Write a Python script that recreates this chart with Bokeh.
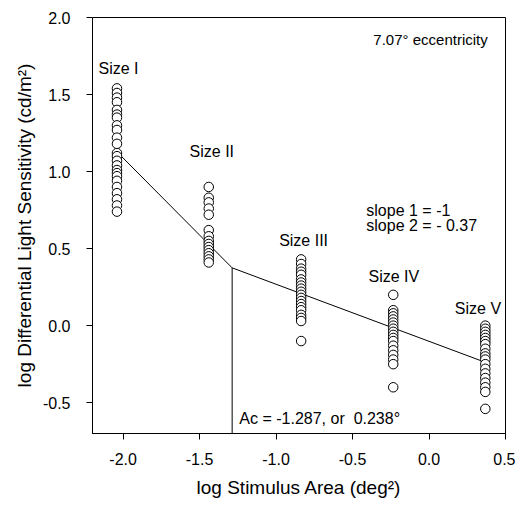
from bokeh.plotting import figure
from bokeh.models import FixedTicker, NumeralTickFormatter, Range1d, Label
from bokeh.embed import file_html
from bokeh.resources import INLINE

# ---- data ----
size_names = ["Size I", "Size II", "Size III", "Size IV", "Size V"]
size_log_area = [-2.04, -1.44, -0.836, -0.234, 0.368]

size_I = [1.54, 1.51, 1.48, 1.45, 1.40, 1.37, 1.35, 1.30, 1.27, 1.22, 1.18,
          1.12, 1.10, 1.07, 1.04, 1.01, 0.99, 0.97, 0.94, 0.90, 0.86, 0.82,
          0.78, 0.74]
size_II = [0.90, 0.83, 0.80, 0.76, 0.72, 0.62, 0.58, 0.55, 0.53, 0.51, 0.49,
           0.47, 0.45, 0.43, 0.41]
size_III = [0.43, 0.40, 0.37, 0.35, 0.33, 0.30, 0.28, 0.26, 0.24, 0.22, 0.20,
            0.18, 0.16, 0.14, 0.12, 0.10, 0.07, 0.05, 0.03, -0.10]
size_IV = [0.20, 0.10, 0.08, 0.06, 0.04, 0.02, 0.00, -0.02, -0.04, -0.06,
           -0.08, -0.10, -0.13, -0.16, -0.19, -0.22, -0.25, -0.40]
size_V = [0.00, -0.02, -0.04, -0.06, -0.08, -0.10, -0.12, -0.15, -0.18, -0.20,
          -0.22, -0.25, -0.28, -0.31, -0.34, -0.37, -0.40, -0.43, -0.54]
series = [size_I, size_II, size_III, size_IV, size_V]

fit_x = [-2.04, -1.287, 0.368]
fit_y = [1.128, 0.375, -0.238]
ac_x = [-1.287, -1.287]
ac_y = [-0.7, 0.375]

x_ticks = [-2.0, -1.5, -1.0, -0.5, 0.0, 0.5]
y_ticks = [-0.5, 0.0, 0.5, 1.0, 1.5, 2.0]

FONT = "Liberation Sans"

p = figure(width=515, height=500, output_backend="svg", toolbar_location=None,
           x_range=Range1d(-2.2, 0.5), y_range=Range1d(-0.7, 2.0),
           min_border_left=92, min_border_right=10, min_border_top=17,
           min_border_bottom=65)
p.grid.visible = False
p.outline_line_color = "black"
p.outline_line_width = 1
p.background_fill_color = "white"
p.border_fill_color = "white"

for ax in (p.xaxis[0], p.yaxis[0]):
    ax.major_tick_in = 0
    ax.major_tick_out = 6
    ax.minor_tick_line_color = None
    ax.axis_line_color = "black"
    ax.major_tick_line_color = "black"
    ax.major_label_text_font = FONT
    ax.major_label_text_font_size = "16px"
    ax.major_label_text_color = "black"
    ax.axis_label_text_font = FONT
    ax.axis_label_text_font_size = "19px"
    ax.axis_label_text_font_style = "normal"
    ax.axis_label_text_color = "black"
    ax.formatter = NumeralTickFormatter(format="0.0")

p.xaxis.ticker = FixedTicker(ticks=x_ticks)
p.yaxis.ticker = FixedTicker(ticks=y_ticks)
p.xaxis.axis_label = "log Stimulus Area (deg²)"
p.yaxis.axis_label = "log Differential Light Sensitivity (cd/m²)"
p.xaxis.major_label_standoff = 13
p.xaxis.axis_label_standoff = 9
p.yaxis.major_label_standoff = 16
p.yaxis.axis_label_standoff = 5

# fitted lines
p.line(fit_x, fit_y, line_color="black", line_width=1)
p.line(ac_x, ac_y, line_color="black", line_width=1)

# data points
for xv, vals in zip(size_log_area, series):
    p.scatter([xv] * len(vals), vals, size=9.5, marker="circle",
              fill_color="white", line_color="black", line_width=1)

# size labels
label_pos = [(-2.03, 1.67), (-1.42, 1.13), (-0.82, 0.55), (-0.23, 0.32), (0.32, 0.11)]
for name, (lx, ly) in zip(size_names, label_pos):
    p.add_layout(Label(x=lx, y=ly, text=name, text_align="center",
                       text_baseline="middle", text_font=FONT,
                       text_font_size="16px", text_color="black"))

common = dict(text_baseline="middle", text_font=FONT, text_color="black")
p.add_layout(Label(x=0.01, y=1.86, text="7.07° eccentricity", text_align="center",
                   text_font_size="15px", **common))
p.add_layout(Label(x=-0.41, y=0.75, text="slope 1 = -1", text_align="left",
                   text_font_size="16px", **common))
p.add_layout(Label(x=-0.41, y=0.65, text="slope 2 = - 0.37", text_align="left",
                   text_font_size="16px", **common))
p.add_layout(Label(x=-1.24, y=-0.60, text="Ac = -1.287, or\u00a0 0.238°", text_align="left",
                   text_font_size="16px", **common))

open("out.html", "w").write(file_html(p, INLINE))
